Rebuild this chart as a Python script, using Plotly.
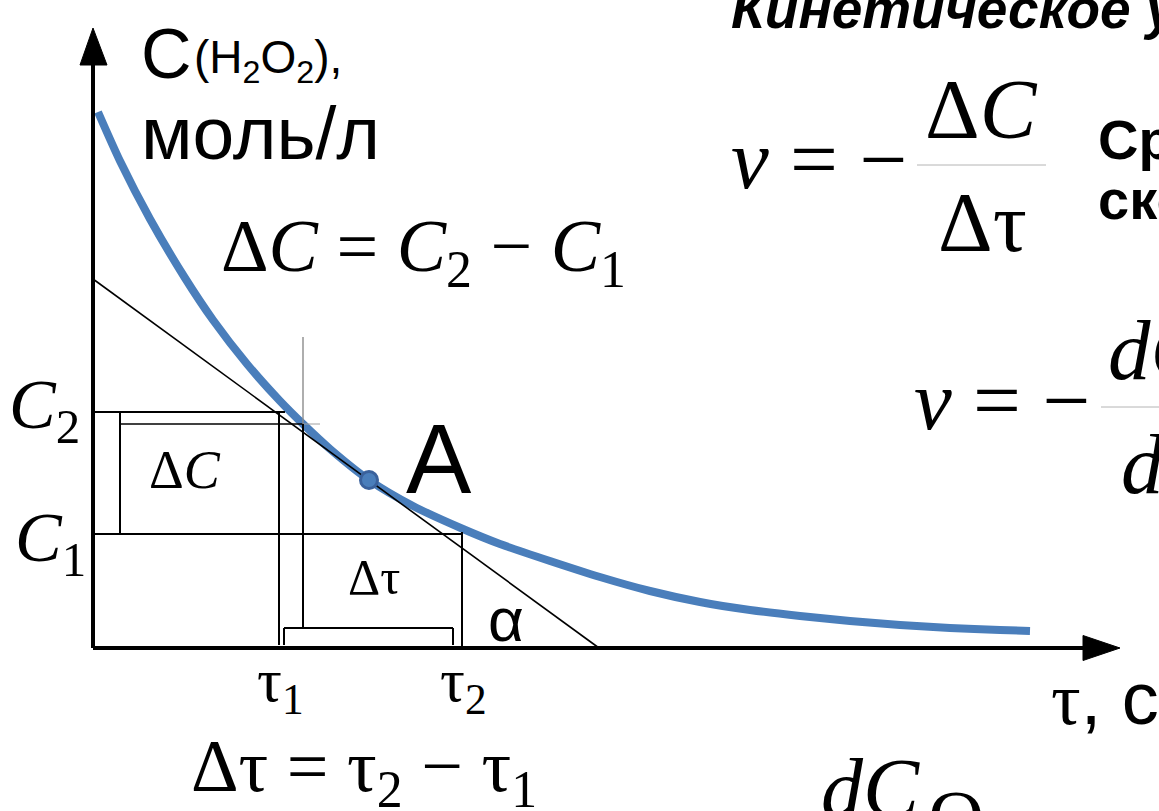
import plotly.graph_objects as go

# Kinetic curve of H2O2 decomposition, in plot units (time tau, concentration C)
tau = [5, 27, 57, 92, 120, 154, 187, 210, 237, 276, 320, 370, 407,
       457, 507, 557, 607, 657, 707, 757, 807, 857, 907, 937]
conc = [536, 487, 429, 370, 328, 284, 247, 224, 199, 168, 142, 119, 104,
        87, 71, 57, 46, 38, 32, 27, 23, 20, 18, 17]

# Point A and the tangent drawn through it
tau_A = [276]
conc_A = [168]
tangent_tau = [0, 506]
tangent_conc = [369, 0]

# Interval used for the average rate
tau1, tau2 = 186, 369
C1, C2 = 114, 236

W, H = 1159, 811
X_RANGE = [-93, 1066]
Y_RANGE = [-163, 648]

BLUE = "#4a7ebb"
SERIF = "Liberation Serif, Times New Roman, serif"
SANS = "Liberation Sans, Arial, sans-serif"
ASC = {SERIF: 0.891, SANS: 0.905}

fig = go.Figure()

fig.add_trace(go.Scatter(
    x=tau, y=conc, mode="lines",
    line=dict(color=BLUE, width=8, shape="spline", smoothing=0.7),
    hoverinfo="skip", showlegend=False))

fig.add_trace(go.Scatter(
    x=tangent_tau, y=tangent_conc, mode="lines",
    line=dict(color="black", width=1.6),
    hoverinfo="skip", showlegend=False))

fig.add_trace(go.Scatter(
    x=tau_A, y=conc_A, mode="markers",
    marker=dict(size=17, color=BLUE, line=dict(color="#3a619c", width=3)),
    hoverinfo="skip", showlegend=False))


def seg(x0, y0, x1, y1, width=2.0, color="black"):
    fig.add_shape(type="line", x0=x0, y0=y0, x1=x1, y1=y1, xref="x", yref="y",
                  line=dict(color=color, width=width), layer="above")


def tri(pts):
    path = "M " + " L ".join(f"{px},{py}" for px, py in pts) + " Z"
    fig.add_shape(type="path", path=path, xref="x", yref="y",
                  fillcolor="black", line=dict(color="black", width=1), layer="above")


# axes with arrow heads
seg(0, 0, 0, 590, width=4)
seg(0, 0, 995, 0, width=4)
tri([(-13, 583), (0, 620), (14, 583)])
tri([(990, 12.5), (1027, 0), (990, -12.5)])

# construction of the average-rate interval
seg(0, C2, 192, C2)
seg(27, C2 - 12, 210, C2 - 12, width=1.6)
seg(210, C2 - 12, 227, C2 - 12, width=1, color="#a0a0a0")
seg(27, C2 - 1, 27, C1 + 1)
seg(0, C1, tau2, C1)
seg(tau1, C2, tau1, 3)
seg(tau2, C1 + 2, tau2, 0)
seg(210, 311, 210, C2 - 12, width=1.4, color="#8c8c8c")
seg(210, C2 - 12, 210, 20)
seg(191, 20, 360, 20)
seg(191, 20, 191, 3)
seg(360, 20, 360, 3)

# fraction bars of the rate formulas
seg(824, 483, 953, 483, width=1, color="#b4b4b4")
seg(1008, 241, 1066, 241, width=1, color="#b4b4b4")


def label(x, base, text, size, family=SERIF, xanchor="left"):
    # x, base in plot units; placed through paper coordinates so that
    # texts reaching past the frame are still drawn (and cropped by it)
    top = base + ASC[family] * size
    fig.add_annotation(x=(x - X_RANGE[0]) / (X_RANGE[1] - X_RANGE[0]),
                       y=(top - Y_RANGE[0]) / (Y_RANGE[1] - Y_RANGE[0]),
                       text=text, xref="paper", yref="paper",
                       xanchor=xanchor, yanchor="top",
                       showarrow=False, borderpad=0, align="left",
                       font=dict(family=family, size=size, color="black"))


# headings
label(637, 621, "<b><i>Кинетическое уравнение</i></b>", 55, SANS)
label(1004, 490, "<b>Средняя</b>", 56, SANS)
label(1004, 430, "<b>скорость</b>", 56, SANS)

# axis titles
label(47, 571, "C", 70, SANS)
label(100, 576, "(H<sub>2</sub>O<sub>2</sub>),", 46, SANS)
label(47, 490, "моль/л", 75, SANS)
label(957, -74, 'τ<span style="font-family:Liberation Sans">, с</span>', 74, SERIF)

# construction labels
label(127, 378, "Δ<i>C</i> = <i>C</i><sub>2</sub> − <i>C</i><sub>1</sub>", 74)
label(-85, C2 - 15, "<i>C</i><sub>2</sub>", 70)
label(-79, C1 - 26, "<i>C</i><sub>1</sub>", 70)
label(55, 161, "Δ<i>C</i>", 54)
label(254, 55, "Δτ", 50)
label(tau_A[0] + 36, conc_A[0] - 12, "A", 98, SANS)
label(394, 8, "α", 62, SANS)
label(tau1 + 1, -52, "τ<sub>1</sub>", 62, xanchor="center")
label(tau2 + 1, -52, "τ<sub>2</sub>", 62, xanchor="center")
label(97, -142, "Δτ = τ<sub>2</sub> − τ<sub>1</sub>", 74)

# average rate
label(637, 461, "<i>v</i> = −", 85)
label(888, 511, "Δ<i>C</i>", 85, xanchor="center")
label(889, 398, "Δτ", 85, xanchor="center")

# instantaneous rate
label(820, 220, "<i>v</i> = −", 85)
label(1014, 270, "<i>dC</i>", 85)
label(1027, 156, "<i>d</i>τ", 85)
label(727, -168, "<i>dC</i>", 84)
label(834, -194, "O<sub>2</sub>", 78)

fig.update_layout(
    width=W, height=H, margin=dict(l=0, r=0, t=0, b=0),
    paper_bgcolor="white", plot_bgcolor="white",
    xaxis=dict(range=X_RANGE, visible=False, fixedrange=True),
    yaxis=dict(range=Y_RANGE, visible=False, fixedrange=True),
    showlegend=False,
)

fig.write_html("out.html", config={"displayModeBar": False})
